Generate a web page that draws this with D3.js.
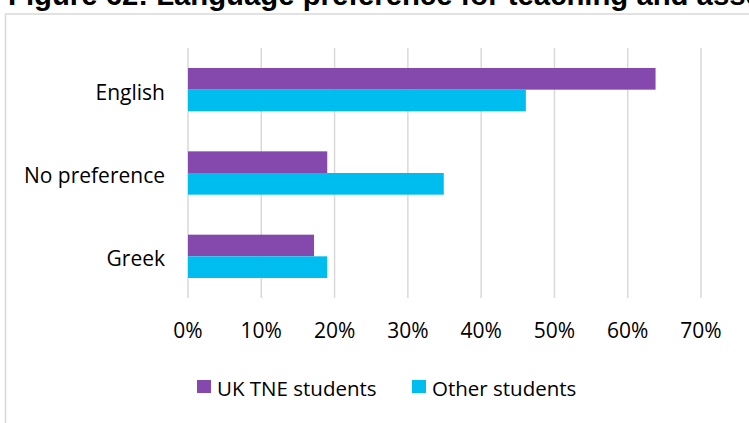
<!DOCTYPE html>
<html lang="en">
<head>
    <meta charset="UTF-8">
    <title>Language preference</title>
</head>
<style>
    body { margin: 0; background: #fff; overflow: hidden; }
    text { font-family: "Open Sans", Lato, sans-serif; fill: #000; }
    .title { font-family: "Liberation Sans", Arial, sans-serif; font-weight: bold; }
    .grid line { stroke: #d9d9d9; stroke-width: 1.5px; }
</style>
<body>
<script src="https://d3js.org/d3.v7.min.js"></script>
<script>
    const width = 749, height = 423;

    const categories = ["English", "No preference", "Greek"];
    const seriesNames = ["UK TNE students", "Other students"];
    const ukTne = [0.638, 0.19, 0.172];
    const other = [0.461, 0.349, 0.19];
    const ticks = [0, 0.1, 0.2, 0.3, 0.4, 0.5, 0.6, 0.7];
    const colors = ["#8549ad", "#00bdf0"];

    const margin = {left: 188, right: 48, top: 48, bottom: 125};

    const svg = d3.select("body")
        .append("svg")
        .attr("width", width)
        .attr("height", height);

    // title, cut off at the top of the page
    svg.append("text")
        .attr("class", "title")
        .attr("x", 8)
        .attr("y", 5)
        .style("font-size", "29.3px")
        .text("Figure 62: Language preference for teaching and assessment");

    // chart frame
    svg.append("rect")
        .attr("x", 5.5)
        .attr("y", 14)
        .attr("width", 760)
        .attr("height", 430)
        .attr("fill", "none")
        .attr("stroke", "#d9d9d9")
        .attr("stroke-width", 1.5);

    const x = d3.scaleLinear()
        .domain([0, 0.7])
        .range([margin.left, width - margin.right]);

    const y = d3.scaleBand()
        .domain(categories)
        .range([margin.top, height - margin.bottom])
        .paddingInner(0.48)
        .paddingOuter(0.24);

    const y1 = d3.scaleBand()
        .domain(seriesNames)
        .range([0, y.bandwidth()]);

    const grid = svg.append("g").attr("class", "grid");
    grid.selectAll("line")
        .data(ticks)
        .enter().append("line")
        .attr("x1", function (d) { return x(d); })
        .attr("x2", function (d) { return x(d); })
        .attr("y1", margin.top)
        .attr("y2", height - margin.bottom);

    const groups = svg.selectAll("g.cat")
        .data(categories)
        .enter().append("g")
        .attr("class", "cat")
        .attr("transform", function (d) { return "translate(0," + y(d) + ")"; });

    groups.selectAll("rect")
        .data(function (d, i) {
            return [
                {s: seriesNames[0], v: ukTne[i], c: colors[0]},
                {s: seriesNames[1], v: other[i], c: colors[1]}
            ];
        })
        .enter().append("rect")
        .attr("x", x(0))
        .attr("y", function (d) { return y1(d.s); })
        .attr("width", function (d) { return x(d.v) - x(0); })
        .attr("height", y1.bandwidth())
        .attr("fill", function (d) { return d.c; });

    // category labels
    svg.selectAll("text.cat")
        .data(categories)
        .enter().append("text")
        .attr("class", "cat")
        .attr("x", 165)
        .attr("y", function (d) { return y(d) + y.bandwidth() / 2 + 10; })
        .attr("text-anchor", "end")
        .style("font-size", "21px")
        .text(function (d) { return d; });

    // value axis labels
    svg.selectAll("text.tick")
        .data(ticks)
        .enter().append("text")
        .attr("class", "tick")
        .attr("x", function (d) { return x(d); })
        .attr("y", 338)
        .attr("text-anchor", "middle")
        .style("font-size", "21px")
        .text(d3.format(".0%"));

    // legend
    const legend = svg.append("g");
    const legendX = [197, 412];
    seriesNames.forEach(function (name, i) {
        legend.append("rect")
            .attr("x", legendX[i])
            .attr("y", 380)
            .attr("width", 14)
            .attr("height", 13)
            .attr("fill", colors[i]);
        legend.append("text")
            .attr("x", legendX[i] + 20)
            .attr("y", 396)
            .style("font-size", "20.5px")
            .text(name);
    });
</script>
</body>
</html>
